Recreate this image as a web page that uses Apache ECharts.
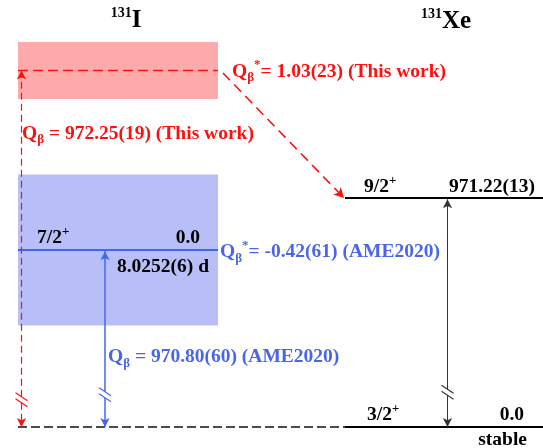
<!DOCTYPE html>
<html><head><meta charset="utf-8">
<script src="https://cdn.jsdelivr.net/npm/echarts@6/dist/echarts.min.js"></script>
<style>html,body{margin:0;padding:0;background:#fff}#c{width:543px;height:448px}</style>
</head><body><div id="c"></div>
<script>
// ---------- data (keV) ----------
const parentMass = '131', parentSymbol = 'I';
const daughterMass = '131', daughterSymbol = 'Xe';
const parentSpin = '7/2', parentEnergyLabel = '0.0', parentHalfLife = '8.0252(6) d';
const daughterSpins = ['3/2', '9/2'];
const daughterEnergies = [0.0, 971.22];
const daughterEnergyLabels = ['0.0', '971.22(13)'];
const daughterNote = 'stable';
const qThisWork = 972.25, qThisWorkLabel = '972.25(19)';
const qStarThisWork = 1.03, qStarThisWorkUnc = 0.23, qStarThisWorkLabel = '1.03(23)';
const qAME = 970.80, qAMELabel = '970.80(60)';
const qStarAME = -0.42, qStarAMEUnc = 0.61, qStarAMELabel = '-0.42(61)';
// ground state is drawn below an axis break
const groundDisplay = 969.37;

// ---------- styles ----------
const F = '"Liberation Serif","Times New Roman",serif';
const RED = '#ff1010', BLUE = '#4a66e8', BLACK = '#000';
const RED_BOX = '#ffaaaa', BLUE_BOX = '#b8bff8', BLUE_LINE = '#4466ee';
const FS = 19.5;

const xeLevel = daughterEnergies[1];
const yG = groundDisplay;

function rich(c) {
  return {
    n: {fontSize: FS, fontWeight: 'bold', fontFamily: F, fill: c, lineHeight: 26},
    sb: {fontSize: 13, fontWeight: 'bold', fontFamily: F, fill: c, verticalAlign: 'bottom'},
    sp: {fontSize: 13, fontWeight: 'bold', fontFamily: F, fill: c, verticalAlign: 'top'}
  };
}

const labels = [
  {x: 37, y: qAME, dy: -12, align: 'left', c: BLACK, t: '{n|' + parentSpin + '}{sp|+}'},
  {x: 200, y: qAME, dy: -12, align: 'right', c: BLACK, t: '{n|' + parentEnergyLabel + '}'},
  {x: 209, y: qAME, dy: 17, align: 'right', c: BLACK, t: '{n|' + parentHalfLife + '}'},
  {x: 220, y: qAME, dy: 2, align: 'left', c: BLUE, t: '{n|Q}{sb|β}{sp|*}{n|= ' + qStarAMELabel + ' (AME2020)}'},
  {x: 108, y: yG, dy: -70, align: 'left', c: BLUE, t: '{n|Q}{sb|β}{n| = ' + qAMELabel + ' (AME2020)}'},
  {x: 22, y: qThisWork, dy: 63, align: 'left', c: RED, t: '{n|Q}{sb|β}{n| = ' + qThisWorkLabel + ' (This work)}'},
  {x: 232, y: qThisWork, dy: 1, align: 'left', c: RED, t: '{n|Q}{sb|β}{sp|*}{n|= ' + qStarThisWorkLabel + ' (This work)}'},
  {x: 364, y: xeLevel, dy: -11, align: 'left', c: BLACK, t: '{n|' + daughterSpins[1] + '}{sp|+}'},
  {x: 535, y: xeLevel, dy: -11, align: 'right', c: BLACK, t: '{n|' + daughterEnergyLabels[1] + '}'},
  {x: 367, y: yG, dy: -12, align: 'left', c: BLACK, t: '{n|' + daughterSpins[0] + '}{sp|+}'},
  {x: 524, y: yG, dy: -12, align: 'right', c: BLACK, t: '{n|' + daughterEnergyLabels[0] + '}'},
  {x: 527, y: yG, dy: 13, align: 'right', c: BLACK, t: '{n|' + daughterNote + '}'}
];

// axis-break marks on the vertical arrows
const breaks = [
  {x: 21.5, y: 969.59, c: RED},
  {x: 105, y: 969.63, c: BLUE_LINE},
  {x: 447.5, y: 969.65, c: '#333'}
];
const gap = 0.025;

const chart = echarts.init(document.getElementById('c'), null, {renderer: 'canvas'});
chart.setOption({
  animation: false,
  backgroundColor: '#fff',
  grid: {left: 0, right: 0, top: 0, bottom: 0},
  xAxis: {type: 'value', min: 0, max: 543, show: false},
  yAxis: {type: 'value', min: 969.2, max: 972.82, show: false},
  graphic: [
    {type: 'text', x: 126, y: 21, style: {text: '{m|' + parentMass + '}{t|' + parentSymbol + '}', align: 'center', verticalAlign: 'middle',
      rich: {m: {fontSize: 14, fontWeight: 'bold', fontFamily: F, fill: BLACK, verticalAlign: 'top'}, t: {fontSize: 25, fontWeight: 'bold', fontFamily: F, fill: BLACK, lineHeight: 30}}}},
    {type: 'text', x: 446, y: 22, style: {text: '{m|' + daughterMass + '}{t|' + daughterSymbol + '}', align: 'center', verticalAlign: 'middle',
      rich: {m: {fontSize: 14, fontWeight: 'bold', fontFamily: F, fill: BLACK, verticalAlign: 'top'}, t: {fontSize: 25, fontWeight: 'bold', fontFamily: F, fill: BLACK, lineHeight: 30}}}}
  ],
  series: [
    { // uncertainty boxes
      type: 'line', data: [], silent: true, z: 1,
      markArea: {silent: true, label: {show: false}, data: [
        [{coord: [18, qThisWork + qStarThisWorkUnc], itemStyle: {color: RED_BOX, opacity: 1}}, {coord: [218, qThisWork - qStarThisWorkUnc]}],
        [{coord: [18, qAME + qStarAMEUnc], itemStyle: {color: BLUE_BOX, opacity: 1}}, {coord: [218, qAME - qStarAMEUnc]}]
      ]}
    },
    {type: 'line', z: 3, silent: true, symbol: 'none', data: [[18, qAME], [218, qAME]], lineStyle: {color: BLUE_LINE, width: 2}},
    {type: 'line', z: 3, silent: true, symbol: 'none', data: [[18, qThisWork], [218, qThisWork]], lineStyle: {color: RED, width: 1.5, type: [10, 5]}},
    {type: 'line', z: 3, silent: true, symbol: 'none', data: [[345, xeLevel], [543, xeLevel]], lineStyle: {color: BLACK, width: 2}},
    {type: 'line', z: 3, silent: true, symbol: 'none', data: [[345, yG], [543, yG]], lineStyle: {color: BLACK, width: 2}},
    {type: 'line', z: 3, silent: true, symbol: 'none', data: [[18, yG], [345, yG]], lineStyle: {color: '#111', width: 1.5, type: [9, 4]}},
    { // red arrows
      type: 'line', data: [], z: 4, silent: true,
      markLine: {silent: true, label: {show: false}, symbolSize: [7, 9],
        lineStyle: {color: RED, width: 1.2, type: [7, 4]},
        data: [
          [{coord: [21.5, breaks[0].y + gap], symbol: 'none'}, {coord: [21.5, qThisWork], symbol: 'arrow'}],
          [{coord: [21.5, breaks[0].y - gap], symbol: 'none'}, {coord: [21.5, yG], symbol: 'arrow'}]
        ]}
    },
    {
      type: 'line', data: [], z: 4, silent: true,
      markLine: {silent: true, label: {show: false}, symbolSize: [8, 10],
        lineStyle: {color: RED, width: 1.6, type: [10, 6]},
        data: [[{coord: [223, qThisWork - 0.02], symbol: 'none'}, {coord: [344, xeLevel], symbol: 'arrow'}]]}
    },
    { // blue arrow
      type: 'line', data: [], z: 4, silent: true,
      markLine: {silent: true, label: {show: false}, symbolSize: [7, 9],
        lineStyle: {color: BLUE_LINE, width: 1.5, type: 'solid'},
        data: [
          [{coord: [105, breaks[1].y + gap], symbol: 'none'}, {coord: [105, qAME - 0.01], symbol: 'arrow'}],
          [{coord: [105, breaks[1].y - gap], symbol: 'none'}, {coord: [105, yG], symbol: 'arrow'}]
        ]}
    },
    { // black arrow
      type: 'line', data: [], z: 4, silent: true,
      markLine: {silent: true, label: {show: false}, symbolSize: [7, 9],
        lineStyle: {color: '#333', width: 1, type: 'solid'},
        data: [
          [{coord: [447.5, breaks[2].y + gap], symbol: 'none'}, {coord: [447.5, xeLevel - 0.01], symbol: 'arrow'}],
          [{coord: [447.5, breaks[2].y - gap], symbol: 'none'}, {coord: [447.5, yG], symbol: 'arrow'}]
        ]}
    },
    { // break marks
      type: 'custom', z: 5, silent: true, clip: false,
      data: breaks.map(b => [b.x, b.y]),
      renderItem: function (params, api) {
        const p = api.coord([api.value(0), api.value(1)]);
        const c = breaks[params.dataIndex].c;
        return {type: 'group', children: [
          {type: 'line', shape: {x1: p[0] - 6, y1: p[1] - 7, x2: p[0] + 6, y2: p[1] + 1}, style: {stroke: c, lineWidth: 1.2}},
          {type: 'line', shape: {x1: p[0] - 6, y1: p[1] - 1, x2: p[0] + 6, y2: p[1] + 7}, style: {stroke: c, lineWidth: 1.2}}
        ]};
      }
    },
    { // text labels
      type: 'custom', z: 6, silent: true, clip: false,
      data: labels.map(l => [l.x, l.y]),
      renderItem: function (params, api) {
        const L = labels[params.dataIndex];
        const p = api.coord([api.value(0), api.value(1)]);
        return {type: 'text', x: p[0], y: p[1] + L.dy,
          style: {text: L.t, rich: rich(L.c), align: L.align, verticalAlign: 'middle', fill: L.c, fontFamily: F, fontWeight: 'bold', fontSize: FS}};
      }
    }
  ]
});
</script>
</body></html>
